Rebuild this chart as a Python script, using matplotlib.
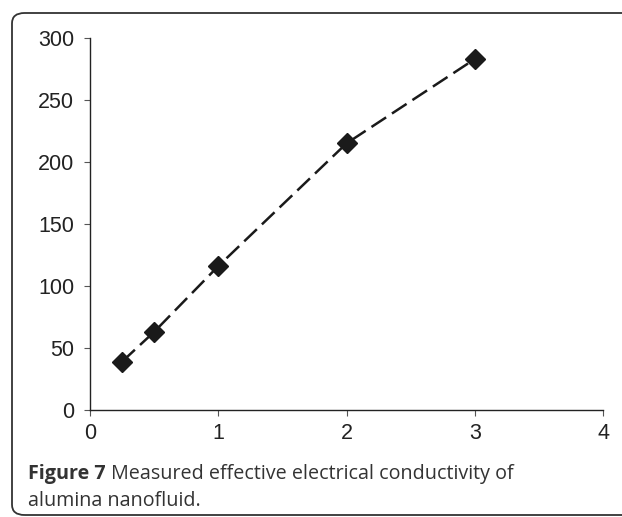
"""Measured effective electrical conductivity of alumina nanofluid."""
import matplotlib
matplotlib.use("Agg")
import matplotlib.pyplot as plt
from matplotlib.patches import FancyBboxPatch

# data
volume_fraction = [0.25, 0.5, 1.0, 2.0, 3.0]
conductivity = [39, 63, 116, 215, 283]
x_ticks = [0, 1, 2, 3, 4]
y_ticks = [0, 50, 100, 150, 200, 250, 300]
caption_bold = "Figure 7"
caption_rest = " Measured effective electrical conductivity of"
caption_line2 = "alumina nanofluid."

W, H = 622, 517
fig = plt.figure(figsize=(W / 100, H / 100), dpi=100)

# rounded frame, right edge runs off the picture
frame = FancyBboxPatch((12 / W, 2 / H), 1.2, (H - 15) / H,
                       boxstyle="round,pad=0,rounding_size=0.02",
                       transform=fig.transFigure, fill=False,
                       edgecolor="#333333", linewidth=1.3, clip_on=False)
fig.add_artist(frame)

ax = fig.add_axes([90 / W, 1 - 410 / H, (603 - 90) / W, (410 - 38) / H])
ax.plot(volume_fraction, conductivity, color="#1a1a1a", linestyle=(0, (7, 2.8)),
        linewidth=1.8, marker="D", markersize=10.5, markerfacecolor="#1a1a1a",
        markeredgecolor="#1a1a1a")
ax.set_xlim(0, 4)
ax.set_ylim(0, 300)
ax.set_xticks(x_ticks)
ax.set_yticks(y_ticks)
for side in ["top", "right"]:
    ax.spines[side].set_visible(False)
for side in ["left", "bottom"]:
    ax.spines[side].set_linewidth(1.0)
    ax.spines[side].set_color("#222222")
ax.tick_params(direction="out", length=4.5, width=0.8, color="#555555",
               labelsize=15.5, labelcolor="#222222")
ax.tick_params(axis="x", pad=5)
ax.tick_params(axis="y", pad=7)
for label in ax.get_xticklabels() + ax.get_yticklabels():
    label.set_family("Liberation Sans")

t1 = fig.text(28 / W, 1 - 479 / H, caption_bold, fontsize=14.2, fontweight="bold",
              family="Open Sans", color="#333333", va="baseline")
fig.canvas.draw()
bb = t1.get_window_extent()
fig.text(bb.x1 / W, 1 - 479 / H, caption_rest, fontsize=14.2,
         family="Open Sans", color="#333333", va="baseline")
fig.text(28 / W, 1 - 506 / H, caption_line2, fontsize=14.2,
         family="Open Sans", color="#333333", va="baseline")

fig.savefig("out.png", dpi=100)
